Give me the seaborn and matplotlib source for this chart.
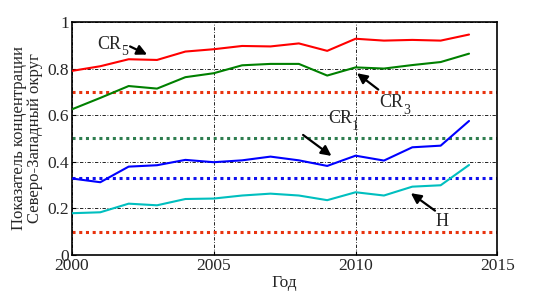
import numpy as np
import pandas as pd
import matplotlib
matplotlib.use("Agg")
import matplotlib.pyplot as plt
import seaborn as sns

# data
years = list(range(2000, 2015))
cr5 = [0.79, 0.81, 0.84, 0.837, 0.873, 0.883, 0.897, 0.895, 0.908, 0.876, 0.928, 0.92, 0.923, 0.92, 0.946]
cr3 = [0.625, 0.674, 0.725, 0.714, 0.763, 0.78, 0.814, 0.82, 0.82, 0.77, 0.805, 0.80, 0.815, 0.828, 0.864]
cr1 = [0.328, 0.312, 0.379, 0.385, 0.408, 0.398, 0.406, 0.422, 0.406, 0.382, 0.426, 0.405, 0.462, 0.469, 0.575]
hhi = [0.179, 0.183, 0.22, 0.213, 0.24, 0.242, 0.255, 0.263, 0.255, 0.235, 0.269, 0.255, 0.293, 0.299, 0.386]

thresholds = [0.7, 0.5, 0.33, 0.1]
threshold_colors = ['#e8330e', '#2e7d4f', '#1010ee', '#e8330e']

series_names = ['CR5', 'CR3', 'CR1', 'H']
series_colors = ['#ff0000', '#008000', '#0000ff', '#00bfbf']

df = pd.DataFrame({
    'year': years * 4,
    'value': cr5 + cr3 + cr1 + hhi,
    'series': sum([[n] * len(years) for n in series_names], []),
})

sns.set_style("ticks")
plt.rcParams['font.family'] = ['Liberation Serif', 'DejaVu Serif']

fig = plt.figure(figsize=(5.49, 2.93), dpi=100)
ax = fig.add_axes([0.131, 0.130, 0.775, 0.795])

for y, c in zip(thresholds, threshold_colors):
    ax.axhline(y, color=c, linestyle=(0, (1, 1.2)), linewidth=2.2, zorder=2)

sns.lineplot(data=df, x='year', y='value', hue='series', palette=series_colors,
             hue_order=series_names, linewidth=1.5, legend=False, ax=ax, zorder=3)

ax.set_xlim(2000, 2015)
ax.set_ylim(0, 1)
ax.set_xticks([2000, 2005, 2010, 2015])
ax.set_yticks([0, 0.2, 0.4, 0.6, 0.8, 1])
ax.set_yticklabels(['0', '0.2', '0.4', '0.6', '0.8', '1'])
ax.tick_params(direction='in', labelsize=12.5, length=3, color='k', pad=2)
ax.grid(True, color='k', linestyle=(0, (4, 2, 1, 2)), linewidth=0.6)
for s in ax.spines.values():
    s.set_visible(True)
    s.set_color('k')
    s.set_linewidth(1.2)

ax.set_xlabel('Год', fontsize=12.5, labelpad=1)
ax.set_ylabel('Показатель концентрации\nСеверо-Западный округ', fontsize=12, labelpad=3,
              linespacing=1.0)

arrow = dict(arrowstyle='-|>', color='k', lw=1.6, mutation_scale=15, shrinkA=0, shrinkB=0)
fs = 13


def label(x, y, main, sub=None):
    t = ax.text(x, y, main, fontsize=fs, ha='center', va='center')
    if sub:
        ax.annotate(sub, xy=(1, 0.42), xycoords=t, fontsize=10, ha='left', va='top')


label(2001.3, 0.905, 'CR', '5')
ax.annotate('', xy=(2002.65, 0.86), xytext=(2002.05, 0.895), arrowprops=arrow)
label(2011.25, 0.655, 'CR', '3')
ax.annotate('', xy=(2010.05, 0.78), xytext=(2010.8, 0.71), arrowprops=arrow)
label(2009.45, 0.585, 'CR', '1')
ax.annotate('', xy=(2009.15, 0.425), xytext=(2008.15, 0.515), arrowprops=arrow)
label(2013.05, 0.145, 'H')
ax.annotate('', xy=(2011.95, 0.265), xytext=(2012.8, 0.19), arrowprops=arrow)

plt.savefig('out.png', dpi=100)
